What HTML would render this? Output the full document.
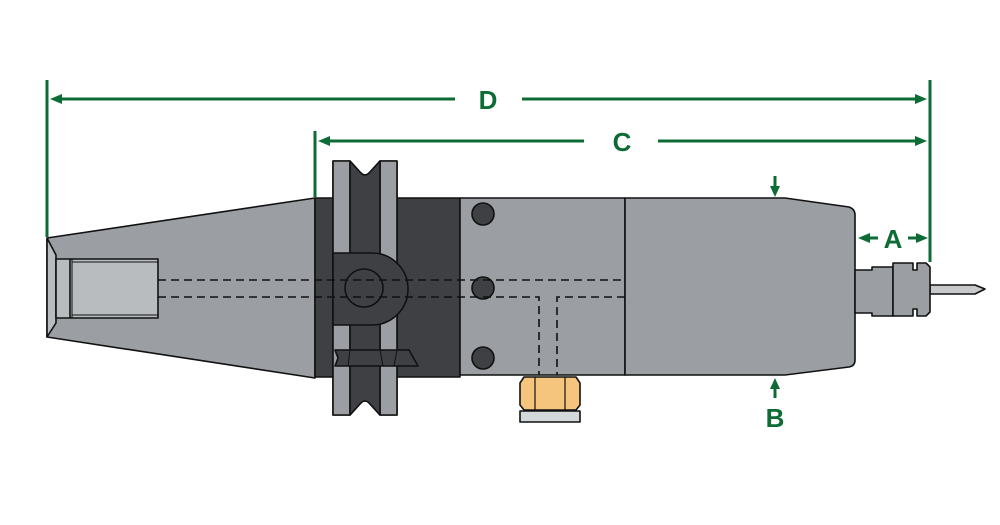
<!DOCTYPE html>
<html><head><meta charset="utf-8"><style>html,body{margin:0;padding:0;background:#fff}svg{display:block}</style></head>
<body>
<svg width="1000" height="525" viewBox="0 0 1000 525" xmlns="http://www.w3.org/2000/svg" font-family="Liberation Sans, sans-serif">
<g stroke="#111" stroke-width="1.6" stroke-linejoin="round">
<!-- taper -->
<polygon points="47,238 315,198 315,378 47,337" fill="#9b9ea2"/>
<polygon points="47,238 56,255 56,323 47,337" fill="#b9bcbf"/>
<rect x="56" y="259" width="102" height="59" fill="#b9bcbf"/>
<line x1="70" y1="259" x2="70" y2="318"/>
<line x1="72" y1="262" x2="158" y2="262" stroke-width="1"/>
<line x1="72" y1="315" x2="158" y2="315" stroke-width="1"/>
<line x1="72" y1="259" x2="72" y2="318" stroke-width="1"/>
<!-- flange -->
<rect x="315" y="198" width="145" height="179" fill="#3e4044"/>
<!-- pulley -->
<path d="M333,161 H350 L360,172 Q365,178 370,172 L380,161 H397 V415 H380 L370,404 Q365,398 360,404 L350,415 H333 Z" fill="#3e4044"/>
<rect x="333" y="161" width="17" height="254" fill="#9b9ea2"/>
<rect x="380" y="161" width="17" height="254" fill="#9b9ea2"/>
<path d="M350,161 L360,172 Q365,178 370,172 L380,161 V415 L370,404 Q365,398 360,404 L350,415 Z" fill="#3e4044"/>
<!-- blade -->
<path d="M335,350 H409 L418,366 H335 L338,358 Z" fill="#3e4044"/>
<line x1="350" y1="350" x2="348" y2="366" stroke-width="1"/>
<line x1="380" y1="350" x2="383" y2="366" stroke-width="1"/>
<line x1="397" y1="350" x2="394" y2="366" stroke-width="1"/>
<!-- D shape -->
<path d="M333,253 H372 A36,36 0 0 1 372,325 H333 Z" fill="#3e4044"/>
<circle cx="364" cy="288" r="19" fill="#3e4044"/>
<!-- body -->
<rect x="460" y="198" width="165" height="177" fill="#9b9ea2"/>
<circle cx="483" cy="214" r="11" fill="#3e4044"/>
<circle cx="483" cy="288" r="11" fill="#3e4044"/>
<circle cx="483" cy="358" r="11" fill="#3e4044"/>
<path d="M625,198 H785 L849,207 Q855,209 855,215 V360 Q855,366 849,367 L785,375 H625 Z" fill="#9b9ea2"/>
<!-- collet -->
<path d="M855,270 H872 V267 H893 V316 H872 V313 H855 Z" fill="#9b9ea2"/>
<polygon points="930,285 975,285 985,289 975,294 930,294" fill="#c7c9cb"/>
<path d="M893,263 H913 V270 H917 V263 H926 L930,267 V312 L926,316 H917 V309 H913 V316 H893 Z" fill="#9b9ea2"/>
<!-- nut -->
<rect x="520" y="411" width="60" height="11" fill="#d3d8da"/>
<path d="M524,377 H576 L580,383 V405 L576,410 H524 L520,405 V383 Z" fill="#f5c57e"/>
<line x1="535" y1="377" x2="535" y2="410" stroke-width="1.2"/>
<line x1="565" y1="377" x2="565" y2="410" stroke-width="1.2"/>
</g>
<!-- dashed -->
<g stroke="#111" stroke-width="1.6" stroke-dasharray="8,5" fill="none">
<line x1="158" y1="280" x2="625" y2="280"/>
<path d="M158,297 H539 V375"/>
<path d="M625,297 H557 V375"/>
</g>
<!-- dimensions -->
<g stroke="#0d6b35" stroke-width="3" fill="#0d6b35">
<line x1="47" y1="80" x2="47" y2="237"/>
<line x1="315" y1="131" x2="315" y2="197"/>
<line x1="930" y1="80" x2="930" y2="262"/>
<line x1="60" y1="99" x2="455" y2="99"/>
<line x1="522" y1="99" x2="917" y2="99"/>
<line x1="328" y1="141" x2="584" y2="141"/>
<line x1="658" y1="141" x2="917" y2="141"/>
<line x1="868" y1="238" x2="878" y2="238"/>
<line x1="908" y1="238" x2="918" y2="238"/>
<line x1="775" y1="176" x2="775" y2="188"/>
<line x1="775" y1="386" x2="775" y2="398"/>
</g>
<g fill="#0d6b35">
<polygon points="50,99 62,94 62,104"/>
<polygon points="927,99 915,94 915,104"/>
<polygon points="318,141 330,136 330,146"/>
<polygon points="927,141 915,136 915,146"/>
<polygon points="858,238 870,233 870,243"/>
<polygon points="928,238 916,233 916,243"/>
<polygon points="775,197 770,186 780,186"/>
<polygon points="775,378 770,389 780,389"/>
<g font-weight="bold" font-size="26" text-anchor="middle">
<text x="488" y="109">D</text>
<text x="622" y="151">C</text>
<text x="893" y="248">A</text>
<text x="775" y="427">B</text>
</g>
</g>
</svg>
</body></html>
